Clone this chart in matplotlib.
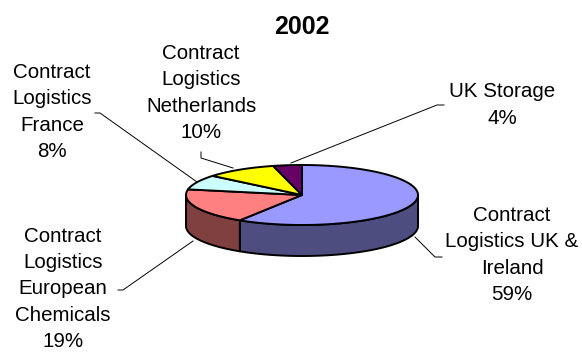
import numpy as np
import matplotlib.pyplot as plt
from matplotlib.patches import Polygon

# share of each business line, 2002
labels = ['Contract\nLogistics UK &\nIreland',
          'Contract\nLogistics\nEuropean\nChemicals',
          'Contract\nLogistics\nFrance',
          'Contract\nLogistics\nNetherlands',
          'UK Storage']
shares = [59, 19, 8, 10, 4]
top_colors = ['#9999FF', '#FF8080', '#CCFFFF', '#FFFF00', '#660066']
side_colors = ['#4D4D80', '#804040', '#668080', '#808000', '#330033']

# label block centres and leader lines (pixel space)
label_pos = [(512, 255), (63, 289), (52, 112), (201, 93), (502, 105)]
leaders = [[(442, 257), (435, 257), (415, 237)],
           [(118, 290), (123, 290), (193, 241)],
           [(95, 113), (100, 113), (197, 182)],
           [(201, 152), (201, 158), (233, 168)],
           [(444, 105), (437, 105), (291, 163)]]

cx, cy, a, b, depth = 302, 195, 116, 30, 31

fig = plt.figure(figsize=(5.82, 3.54), dpi=100)
ax = fig.add_axes([0, 0, 1, 1])
ax.set_xlim(0, 582)
ax.set_ylim(354, 0)
ax.axis('off')
plt.rcParams['font.family'] = ['Liberation Sans', 'DejaVu Sans']


def ell(t, dy=0):
    return np.column_stack([cx + a * np.cos(t), cy - b * np.sin(t) + dy])


# slice angles, clockwise from 12 o'clock
fr = np.array(shares) / sum(shares)
ends = np.pi / 2 - 2 * np.pi * np.cumsum(fr)
starts = np.r_[np.pi / 2, ends[:-1]]

# side walls: only the front half (pi..2pi) is visible
for s, e, col in zip(starts, ends, side_colors):
    lo, hi = e % (2 * np.pi), s % (2 * np.pi)
    if hi <= lo:
        hi += 2 * np.pi
    for off in (0, 2 * np.pi):
        w0 = max(lo, np.pi + off)
        w1 = min(hi, 2 * np.pi + off)
        if w1 <= w0:
            continue
        t = np.linspace(w0, w1, 80)
        pts = np.vstack([ell(t), ell(t[::-1], depth)])
        ax.add_patch(Polygon(pts, closed=True, fc=col, ec='black',
                             lw=1.4, joinstyle='round'))

# top face
for s, e, col in zip(starts, ends, top_colors):
    t = np.linspace(s, e, 120)
    pts = np.vstack([[cx, cy], ell(t)])
    ax.add_patch(Polygon(pts, closed=True, fc=col, ec='black',
                         lw=1.4, joinstyle='round'))

for lab, sh, (x, y), ld in zip(labels, shares, label_pos, leaders):
    ax.text(x, y, f'{lab}\n{sh}%', ha='center', va='center',
            multialignment='center', fontsize=14.8, linespacing=1.48)
    xs, ys = zip(*ld)
    ax.plot(xs, ys, color='black', lw=0.7)

ax.text(302, 27, '2002', ha='center', va='center', fontsize=18,
        fontweight='bold')

fig.savefig('out.png', dpi=100)
